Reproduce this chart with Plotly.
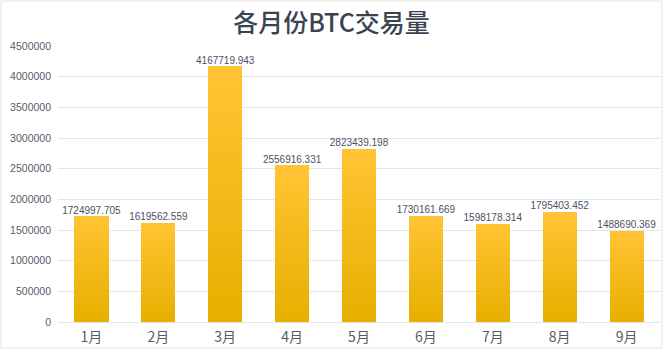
import plotly.graph_objects as go

months = ["1月", "2月", "3月", "4月", "5月", "6月", "7月", "8月", "9月"]
volumes = [1724997.705, 1619562.559, 4167719.943, 2556916.331, 2823439.198,
           1730161.669, 1598178.314, 1795403.452, 1488690.369]
y_ticks = [0, 500000, 1000000, 1500000, 2000000, 2500000, 3000000, 3500000, 4000000, 4500000]

# gradient from bottom (darker) to top (lighter), drawn as stacked slices of each bar
N = 30
bottom = (230, 176, 0)
top = (255, 196, 52)

fig = go.Figure()
for i in range(N):
    t = i / (N - 1)
    c = tuple(round(bottom[k] + (top[k] - bottom[k]) * t) for k in range(3))
    fig.add_trace(go.Bar(
        x=months, y=[v / N for v in volumes],
        marker=dict(color="rgb(%d,%d,%d)" % c, line=dict(width=0)),
        hoverinfo="skip", showlegend=False,
    ))

fig.add_trace(go.Scatter(
    x=months, y=volumes, mode="text",
    text=[f"{v:.3f}" for v in volumes],
    textposition="top center",
    textfont=dict(size=10, color="#4a5262", family="Liberation Sans, Arial, sans-serif"),
    showlegend=False, hoverinfo="skip",
))

fig.update_layout(
    width=663, height=351,
    barmode="stack", bargap=0.49,
    margin=dict(l=58, r=3, t=46, b=29),
    paper_bgcolor="white", plot_bgcolor="white",
    title=dict(text="各月份BTC交易量", x=0.5, xref="container", xanchor="center",
               y=0.935, yanchor="middle",
               font=dict(size=25, color="#3a4352", family="Noto Sans CJK SC", weight=500)),
    font=dict(family="Liberation Sans, Arial, sans-serif"),
    xaxis=dict(showgrid=False, showline=False, ticks="", ticklabelstandoff=5,
               tickfont=dict(size=14, color="#555c68", family="Noto Sans CJK SC")),
    yaxis=dict(range=[0, 4500000], tickvals=y_ticks, ticktext=[str(v) for v in y_ticks],
               showgrid=True, gridcolor="#e3e5e8", gridwidth=1,
               zeroline=True, zerolinecolor="#e3e5e8", zerolinewidth=1,
               tickfont=dict(size=10.5, color="#555c68"), ticks="", ticklabelstandoff=6),
    shapes=[dict(type="rect", xref="paper", yref="paper",
                 x0=-0.0947, x1=1.0033, y0=-0.0942, y1=1.163,
                 line=dict(color="#e2e2e2", width=1), fillcolor="rgba(0,0,0,0)", layer="below")],
)

fig.write_html("out.html")
